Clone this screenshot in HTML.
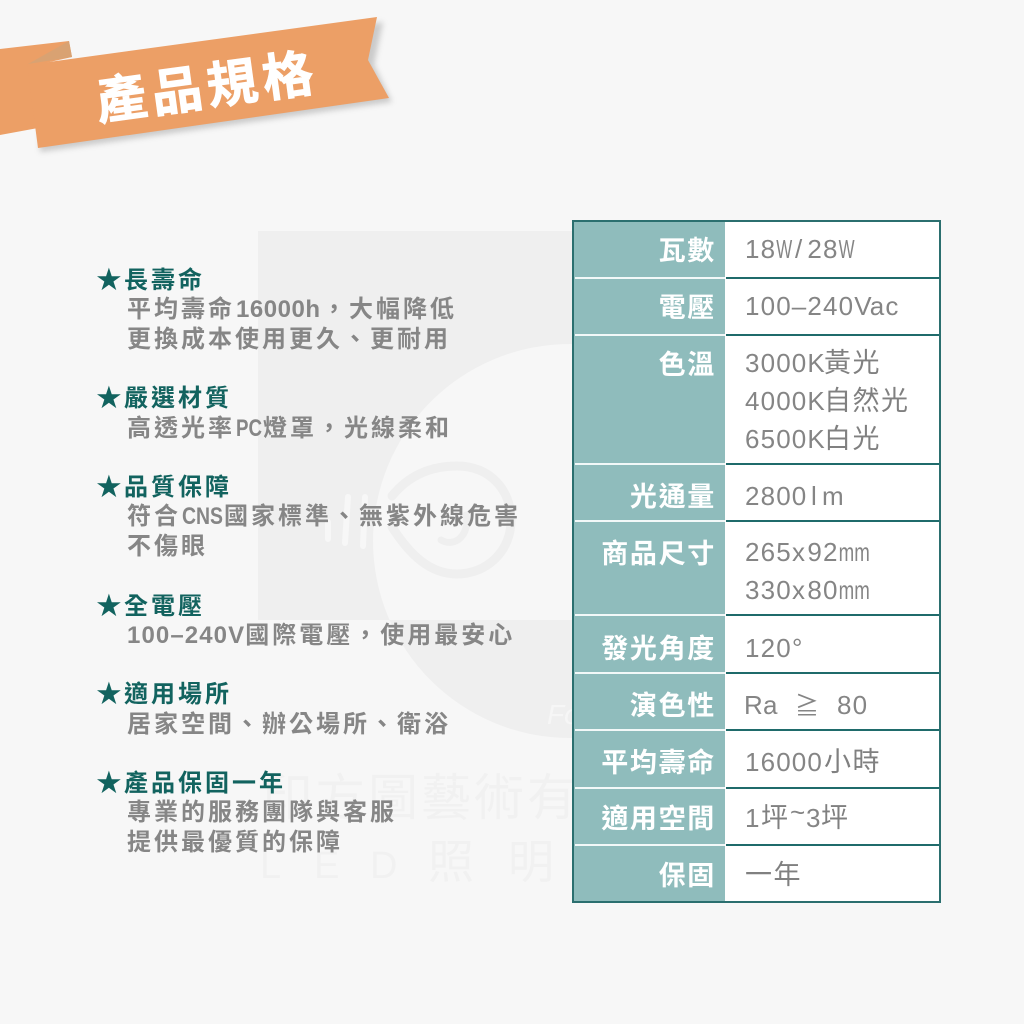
<!DOCTYPE html>
<html lang="zh-Hant"><head><meta charset="utf-8"><title>產品規格</title>
<style>
html,body{margin:0;padding:0;background:#f7f7f7}
svg{display:block}
text{font-family:"Liberation Sans","Noto Sans CJK TC",sans-serif}
.h{font-size:24px;font-weight:700;fill:#12635f;letter-spacing:3px}
.b{font-size:24px;font-weight:700;fill:#868686;letter-spacing:3px}
.n{letter-spacing:1.1px}
.s{font-size:31px;fill:#12635f;font-family:"DejaVu Sans",sans-serif}
.l{font-size:27px;font-weight:700;fill:#fff;letter-spacing:1.7px;text-anchor:end}
.v{font-size:26px;fill:#858585}
.c{font-size:27px;fill:#808080;letter-spacing:1.5px}
.w{font-size:50px;fill:#f1f1f1;letter-spacing:3px;font-family:"Noto Sans CJK TC",sans-serif}
</style></head><body>
<svg width="1024" height="1024" viewBox="0 0 1024 1024" xmlns="http://www.w3.org/2000/svg">
<defs>
<clipPath id="ab"><rect x="0" y="620" width="1024" height="200"/></clipPath>
<filter id="sh" x="-10%" y="-30%" width="120%" height="160%"><feGaussianBlur stdDeviation="3"/></filter>
</defs>
<rect width="1024" height="1024" fill="#f7f7f7"/>
<!-- watermark -->
<rect x="258" y="231" width="510" height="389" fill="#efefef"/>
<circle cx="570" cy="541" r="197" fill="#f7f7f7"/>
<circle cx="570" cy="541" r="197" fill="#efefef" clip-path="url(#ab)"/>
<path d="M392 496C405 480 425 466 457 466C490 466 511 490 511 520C511 552 486 574 457 574C430 574 410 555 392 527" fill="none" stroke="#efefef" stroke-width="9" stroke-linecap="round"/>
<path d="M441 540C455 548 470 535 466 515" fill="none" stroke="#efefef" stroke-width="7" stroke-linecap="round"/>
<path d="M328 522L328 539M348 497L345 543M365 497L363 546" stroke="#f7f7f7" stroke-width="6" stroke-linecap="round"/>
<text x="547" y="724" font-size="28" font-style="italic" fill="#f6f6f6">Fo</text>
<text class="w" x="262" y="815">印方圖藝術有限公司</text>
<text class="w" x="260" y="878" style="font-size:38px;font-family:'Liberation Sans',sans-serif">L</text>
<text class="w" x="314" y="878" style="font-size:38px;font-family:'Liberation Sans',sans-serif">E</text>
<text class="w" x="370" y="878" style="font-size:38px;font-family:'Liberation Sans',sans-serif">D</text>
<text class="w" x="428" y="878" style="font-size:46px">照</text>
<text class="w" x="508" y="878" style="font-size:46px">明</text>
<text class="w" x="606" y="878" style="font-size:46px">工</text>
<!-- ribbon -->
<path d="M40 152L392 102L374 65L383 22L40 70Z" fill="#777" opacity=".35" filter="url(#sh)"/>
<path d="M0 49L69 41L72 57L36 65L38 128L0 135Z" fill="#ec9f66"/>
<path d="M28 64L69 41L72 57Z" fill="#d9a272"/>
<path d="M27 65L377 17L368 60L389 98L38 148Z" fill="#ec9f66"/>
<text x="207" y="105" text-anchor="middle" transform="rotate(-7.8 207 87)" font-size="51" font-weight="700" fill="#fff" stroke="#fff" stroke-width=".8" letter-spacing="5" style="font-family:'Noto Sans CJK TC',sans-serif">產品規格</text>
<!-- left list -->
<g>
<text class="s" x="95" y="290">★</text><text class="h" x="124" y="288">長壽命</text>
<text class="b" x="127" y="317">平均壽命</text><text class="b" style="letter-spacing:0" x="236" y="317" textLength="84" lengthAdjust="spacing">16000h</text><text class="b" x="322" y="317">，大幅降低</text>
<text class="b" x="127" y="347">更換成本使用更久、更耐用</text>
<text class="s" x="95" y="408">★</text><text class="h" x="124" y="406">嚴選材質</text>
<text class="b" x="127" y="436">高透光率</text><text class="b" style="letter-spacing:0" x="236" y="436" textLength="26" lengthAdjust="spacingAndGlyphs">PC</text><text class="b" x="263" y="436">燈罩，光線柔和</text>
<text class="s" x="95" y="497">★</text><text class="h" x="124" y="495">品質保障</text>
<text class="b" x="127" y="524">符合</text><text class="b" style="letter-spacing:0" x="182" y="524" textLength="41" lengthAdjust="spacingAndGlyphs">CNS</text><text class="b" x="224" y="524">國家標準、無紫外線危害</text>
<text class="b" x="127" y="554">不傷眼</text>
<text class="s" x="95" y="616">★</text><text class="h" x="124" y="614">全電壓</text>
<text class="b" x="127" y="643"><tspan class="n">100–240V</tspan>國際電壓，使用最安心</text>
<text class="s" x="95" y="704">★</text><text class="h" x="124" y="702">適用場所</text>
<text class="b" x="127" y="732">居家空間、辦公場所、衛浴</text>
<text class="s" x="95" y="793">★</text><text class="h" x="124" y="791">產品保固一年</text>
<text class="b" x="127" y="820">專業的服務團隊與客服</text>
<text class="b" x="127" y="850">提供最優質的保障</text>
</g>
<!-- table -->
<rect x="573" y="221" width="152" height="681" fill="#8fbcbc"/>
<rect x="725" y="221" width="215" height="681" fill="#fff"/>
<g fill="#f2f8f8">
<rect x="575" y="277" width="150" height="2"/><rect x="575" y="334" width="150" height="2"/><rect x="575" y="463" width="150" height="2"/><rect x="575" y="520" width="150" height="2"/><rect x="575" y="614" width="150" height="2"/><rect x="575" y="672" width="150" height="2"/><rect x="575" y="729" width="150" height="2"/><rect x="575" y="787" width="150" height="2"/><rect x="575" y="844" width="150" height="2"/>
</g>
<g fill="#1f6b6b">
<rect x="726" y="277" width="214" height="2"/><rect x="726" y="334" width="214" height="2"/><rect x="726" y="463" width="214" height="2"/><rect x="726" y="520" width="214" height="2"/><rect x="726" y="614" width="214" height="2"/><rect x="726" y="672" width="214" height="2"/><rect x="726" y="729" width="214" height="2"/><rect x="726" y="787" width="214" height="2"/><rect x="726" y="844" width="214" height="2"/>
</g>
<rect x="573" y="221" width="367" height="681" fill="none" stroke="#2b6f6f" stroke-width="2"/>
<text class="l" x="716" y="260">瓦數</text>
<text class="l" x="716" y="317">電壓</text>
<text class="l" x="716" y="374">色溫</text>
<text class="l" x="716" y="506">光通量</text>
<text class="l" x="716" y="563">商品尺寸</text>
<text class="l" x="716" y="658">發光角度</text>
<text class="l" x="716" y="715">演色性</text>
<text class="l" x="716" y="772">平均壽命</text>
<text class="l" x="716" y="828">適用空間</text>
<text class="l" x="716" y="885">保固</text>

<text class="v" x="745 760.6" y="258">18</text><text class="v" transform="translate(776.2 258) scale(.65 1)">W</text><text class="v" x="795" y="258">/</text><text class="v" x="807.4 823" y="258">28</text><text class="v" transform="translate(838.6 258) scale(.65 1)">W</text>
<text class="v" x="745 760.6 776.2 791.8 807.4 823 838.6 854.2 869.8 885.4" y="315">100–240Vac</text>
<text class="v" x="745 760.6 776.2 791.8 807.4" y="372">3000K</text><text class="c" x="824" y="372">黃光</text>
<text class="v" x="745 760.6 776.2 791.8 807.4" y="410">4000K</text><text class="c" x="824" y="410">自然光</text>
<text class="v" x="745 760.6 776.2 791.8 807.4" y="448">6500K</text><text class="c" x="824" y="448">白光</text>
<text class="v" x="745 760.6 776.2 791.8 811 822" y="505">2800lm</text>
<text class="v" x="745 760.6 776.2 792 807.4 823" y="561">265x92</text><text class="v" transform="translate(838.6 561) scale(.72 1)">m</text><text class="v" transform="translate(854.2 561) scale(.72 1)">m</text>
<text class="v" x="745 760.6 776.2 792 807.4 823" y="599">330x80</text><text class="v" transform="translate(838.6 599) scale(.72 1)">m</text><text class="v" transform="translate(854.2 599) scale(.72 1)">m</text>
<text class="v" x="745 760.6 776.2 792" y="657">120°</text>
<text class="v" x="744 763" y="714">Ra</text><text class="v" x="795" y="714" style="font-size:24px">≧</text><text class="v" x="837 852.6" y="714">80</text>
<text class="v" x="745 760.6 776.2 791.8 807.4" y="771">16000</text><text class="c" x="824" y="771">小時</text>
<text class="v" x="745" y="827">1</text><text class="c" x="761" y="827">坪</text><text class="v" x="790" y="821">~</text><text class="v" x="806" y="827">3</text><text class="c" x="821" y="827">坪</text>
<text class="c" x="745" y="884">一年</text>
</svg>
</body></html>
